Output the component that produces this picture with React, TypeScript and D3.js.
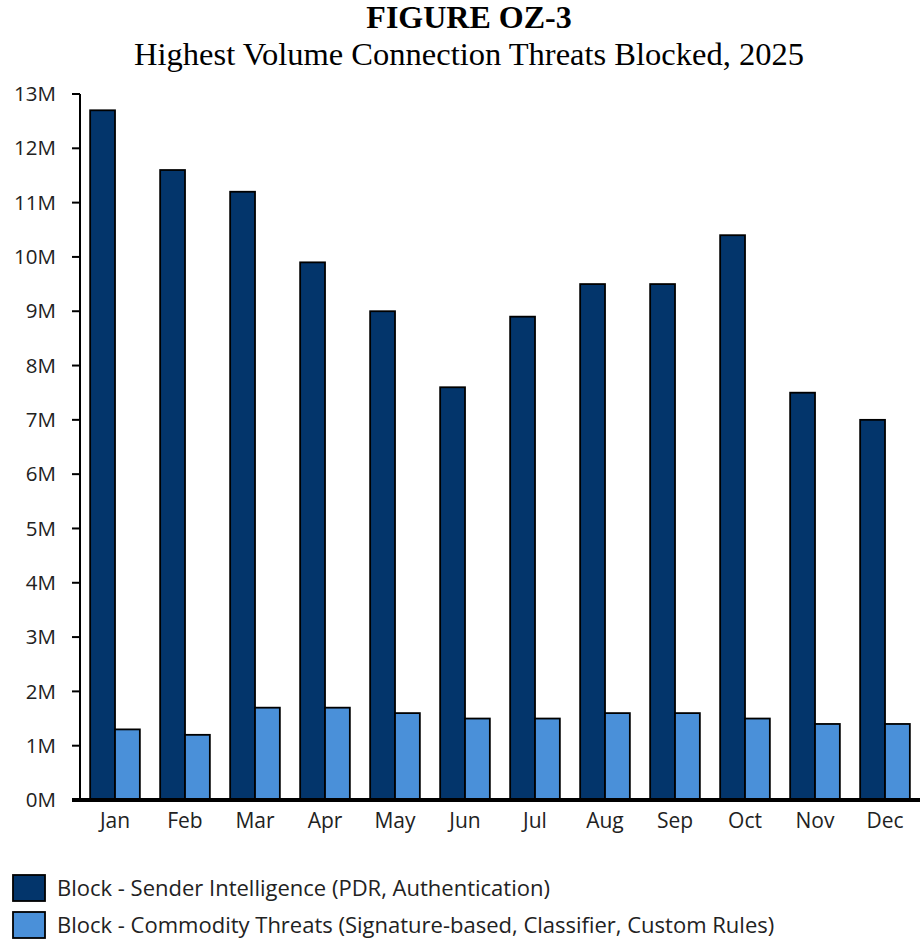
import React from "react";
import * as d3 from "d3";

const months = ["Jan", "Feb", "Mar", "Apr", "May", "Jun", "Jul", "Aug", "Sep", "Oct", "Nov", "Dec"];
const senderIntel = [12.7, 11.6, 11.2, 9.9, 9.0, 7.6, 8.9, 9.5, 9.5, 10.4, 7.5, 7.0];
const commodity = [1.3, 1.2, 1.7, 1.7, 1.6, 1.5, 1.5, 1.6, 1.6, 1.5, 1.4, 1.4];
const yTicks = [0, 1, 2, 3, 4, 5, 6, 7, 8, 9, 10, 11, 12, 13];
const seriesNames = [
  "Block - Sender Intelligence (PDR, Authentication)",
  "Block - Commodity Threats (Signature-based, Classifier, Custom Rules)",
];
const colors = ["#03356B", "#4A90D9"];

export default function App() {
  const W = 922, H = 941;
  const x0 = 80, x1 = 920, yTop = 94, yBot = 800;
  const y = d3.scaleLinear().domain([0, 13]).range([yBot, yTop]);
  const x = d3.scaleBand().domain(months).range([x0, x1]).paddingInner(0.29).paddingOuter(0.145);
  const sub = d3.scaleBand().domain(["a", "b"]).range([0, x.bandwidth()]);
  const font = "'Open Sans', 'Noto Sans', sans-serif";
  const serif = "'Liberation Serif', 'Times New Roman', serif";
  const series = [senderIntel, commodity];
  return (
    <svg width={W} height={H} style={{ position: "absolute", left: 0, top: 0, background: "#fff" }}>
      <text x={469} y={28} textAnchor="middle" fontFamily={serif} fontWeight="bold" fontSize={32}>FIGURE OZ-3</text>
      <text x={469} y={65} textAnchor="middle" fontFamily={serif} fontSize={32.5}>Highest Volume Connection Threats Blocked, 2025</text>
      {yTicks.map((t) => (
        <g key={t}>
          <line x1={x0 - 8} x2={x0} y1={y(t)} y2={y(t)} stroke="#000" strokeWidth={2} />
          <text x={56} y={y(t)} dy="0.35em" textAnchor="end" fontFamily={font} fontSize={20.5} fill="#222">{t}M</text>
        </g>
      ))}
      {months.map((m, i) => (
        <g key={m} transform={`translate(${x(m)},0)`}>
          {series.map((s, j) => (
            <rect key={j} x={sub(j === 0 ? "a" : "b")} y={y(s[i])} width={sub.bandwidth()} height={yBot - y(s[i])} fill={colors[j]} stroke="#000" strokeWidth={1.8} />
          ))}
          <text x={x.bandwidth() / 2} y={828} textAnchor="middle" fontFamily={font} fontSize={21} fill="#222">{m}</text>
        </g>
      ))}
      <line x1={x0} x2={x0} y1={yTop} y2={yBot} stroke="#000" strokeWidth={2} />
      <line x1={x0 - 8} x2={x1} y1={yBot} y2={yBot} stroke="#000" strokeWidth={4} />
      {seriesNames.map((n, j) => (
        <g key={n} transform={`translate(0,${875 + j * 37})`}>
          <rect x={13} y={0} width={32} height={26} fill={colors[j]} stroke="#000" strokeWidth={1.8} />
          <text x={57} y={13} dy="0.35em" fontFamily={font} fontSize={22} fill="#222">{n}</text>
        </g>
      ))}
    </svg>
  );
}
